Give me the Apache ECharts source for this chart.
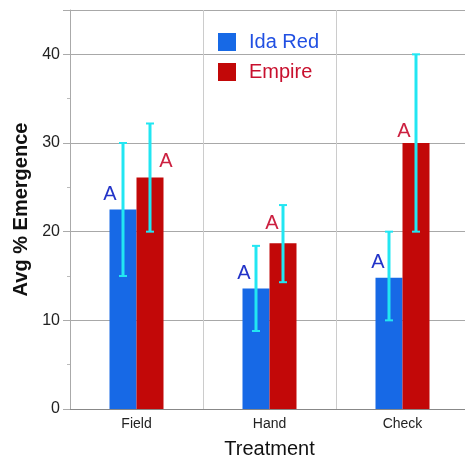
<!DOCTYPE html>
<html>
<head>
<meta charset="utf-8">
<script src="https://cdn.jsdelivr.net/npm/echarts@6/dist/echarts.min.js"></script>
<style>
  html, body { margin: 0; padding: 0; background: #fff; }
  #chart { width: 465px; height: 461px; }
</style>
</head>
<body>
<div id="chart"></div>
<script>
const categories = ['Field', 'Hand', 'Check'];
const idaRed = [22.5, 13.6, 14.8];
const empire = [26.1, 18.7, 30.0];
const idaRedLow = [15.0, 8.8, 10.0];
const idaRedHigh = [30.0, 18.4, 20.0];
const empireLow = [20.0, 14.3, 20.0];
const empireHigh = [32.2, 23.0, 40.0];
const idaLetters = ['A', 'A', 'A'];
const empireLetters = ['A', 'A', 'A'];

const BAR_W = 27;
const idaOffsets = [[-13, 0], [-12, 0], [-11, 0]];
const empireOffsets = [[16, -1], [-11, -5], [-12, 3]];

const chart = echarts.init(document.getElementById('chart'));

const barData = (vals, letters, offsets) => vals.map((v, i) => ({
    value: v,
    label: { formatter: letters[i], offset: offsets[i] }
}));

const errData = [];
categories.forEach((c, i) => {
    errData.push([i, idaRedLow[i], idaRedHigh[i], 0]);
    errData.push([i, empireLow[i], empireHigh[i], 1]);
});

const option = {
    animation: false,
    backgroundColor: '#fff',
    textStyle: { fontFamily: 'Liberation Sans, Arial, sans-serif' },
    grid: { left: 70, right: -4, top: 10, bottom: 52, outerBoundsMode: 'none', containLabel: false },
    legend: {
        orient: 'vertical',
        left: 213,
        top: 27,
        itemWidth: 18,
        itemHeight: 18,
        itemGap: 10,
        icon: 'rect',
        data: [
            { name: 'Ida Red', textStyle: { color: '#2150e2' } },
            { name: 'Empire', textStyle: { color: '#c8102e' } }
        ],
        textStyle: { fontSize: 20, padding: [0, 0, 0, 8] }
    },
    xAxis: {
        type: 'category',
        data: categories,
        name: 'Treatment',
        nameLocation: 'middle',
        nameGap: 30,
        nameTextStyle: { fontSize: 20, color: '#111' },
        axisLine: { lineStyle: { color: '#888', width: 1 } },
        axisTick: { show: false },
        axisLabel: { fontSize: 14, color: '#222', margin: 8 },
        splitLine: { show: true, lineStyle: { color: '#ccc', width: 1 } }
    },
    yAxis: {
        type: 'value',
        min: 0,
        max: 45,
        interval: 10,
        name: 'Avg % Emergence',
        nameLocation: 'middle',
        nameGap: 34,
        nameTextStyle: { fontSize: 20, fontWeight: 'bold', color: '#111' },
        axisLine: { show: true, lineStyle: { color: '#aaa' } },
        axisTick: { show: true, length: 7, lineStyle: { color: '#aaa' } },
        minorTick: { show: true, splitNumber: 2, length: 3, lineStyle: { color: '#bbb' } },
        axisLabel: { fontSize: 16, color: '#222', margin: 10, showMaxLabel: false },
        splitLine: { show: true, lineStyle: { color: '#a8a8a8', width: 1 } }
    },
    series: [
        {
            name: 'Ida Red',
            type: 'bar',
            barWidth: BAR_W,
            barGap: '0%',
            itemStyle: { color: '#1769e6' },
            label: { show: true, position: 'top', fontSize: 20, color: '#2233c8' },
            data: barData(idaRed, idaLetters, idaOffsets)
        },
        {
            name: 'Empire',
            type: 'bar',
            barWidth: BAR_W,
            barGap: '0%',
            itemStyle: { color: '#c20808' },
            label: { show: true, position: 'top', fontSize: 20, color: '#cc2040' },
            data: barData(empire, empireLetters, empireOffsets)
        },
        {
            type: 'custom',
            z: 5,
            data: errData,
            encode: { x: 0, y: [1, 2] },
            renderItem: (params, api) => {
                const cat = api.value(0);
                const lo = api.coord([cat, api.value(1)]);
                const hi = api.coord([cat, api.value(2)]);
                const dx = api.value(3) === 0 ? -BAR_W / 2 : BAR_W / 2;
                const x = lo[0] + dx;
                const cap = 4;
                const style = { stroke: '#22e6f2', lineWidth: 3 };
                return {
                    type: 'group',
                    children: [
                        { type: 'line', shape: { x1: x, y1: lo[1], x2: x, y2: hi[1] }, style },
                        { type: 'line', shape: { x1: x - cap, y1: lo[1], x2: x + cap, y2: lo[1] }, style: { stroke: '#22e6f2', lineWidth: 2 } },
                        { type: 'line', shape: { x1: x - cap, y1: hi[1], x2: x + cap, y2: hi[1] }, style: { stroke: '#22e6f2', lineWidth: 2 } }
                    ]
                };
            }
        }
    ]
};

chart.setOption(option);
</script>
</body>
</html>
